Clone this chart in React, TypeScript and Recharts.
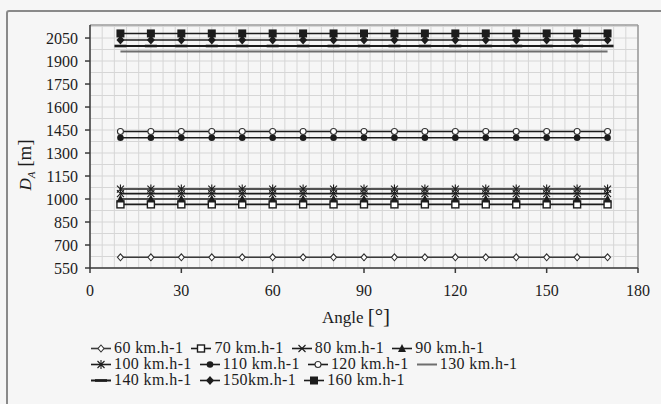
import React from 'react';
import { LineChart, Line, XAxis, YAxis, CartesianGrid, ReferenceLine } from 'recharts';

// angles where each speed was evaluated (degrees)
const angles = [10, 20, 30, 40, 50, 60, 70, 80, 90, 100, 110, 120, 130, 140, 150, 160, 170];

// series names, as printed in the legend
const speeds = [
  '60 km.h-1', '70 km.h-1', '80 km.h-1', '90 km.h-1',
  '100 km.h-1', '110 km.h-1', '120 km.h-1', '130 km.h-1',
  '140 km.h-1', '150km.h-1', '160 km.h-1',
];

// D_A, one level per speed (flat across angle)
const distances = [620, 965, 1035, 1000, 1065, 1400, 1440, 1962, 1998, 2037, 2080];

// marker used for each series
const markers = [
  'diamond', 'square', 'cross', 'triangle',
  'asterisk', 'dot', 'circle', 'none',
  'dash', 'filledDiamond', 'filledSquare',
];

const xTicks = [0, 30, 60, 90, 120, 150, 180];
const yTicks = [550, 700, 850, 1000, 1150, 1300, 1450, 1600, 1750, 1900, 2050];

// legend rows as in the original (4 / 4 / 3)
const legendRows = [[0, 1, 2, 3], [4, 5, 6, 7], [8, 9, 10]];

const Y_MIN = 550;
const Y_MAX = 2135;

const data = angles.map((a) => {
  const row: Record<string, number> = { angle: a };
  speeds.forEach((_, i) => {
    row[`s${i}`] = distances[i];
  });
  return row;
});

const hGrid: number[] = [];
for (let v = Y_MIN; v <= Y_MAX; v += 75) hGrid.push(v);
const vGrid: number[] = [];
for (let v = 0; v <= 180; v += 4) vGrid.push(v);

const FONT = 'Liberation Serif, DejaVu Serif, serif';
const INK = '#1c1c1c';

const Marker = ({ kind, cx, cy }: { kind: string; cx: number; cy: number }) => {
  switch (kind) {
    case 'diamond':
      return <path d={`M${cx},${cy - 3.5}L${cx + 3},${cy}L${cx},${cy + 3.5}L${cx - 3},${cy}Z`} fill="#fff" stroke="#333" strokeWidth={1.1} />;
    case 'square':
      return <rect x={cx - 3.5} y={cy - 3.5} width={7} height={7} fill="#fff" stroke={INK} strokeWidth={1.4} />;
    case 'cross':
      return <path d={`M${cx - 3.5},${cy - 3.5}L${cx + 3.5},${cy + 3.5}M${cx + 3.5},${cy - 3.5}L${cx - 3.5},${cy + 3.5}`} stroke={INK} strokeWidth={1.1} />;
    case 'triangle':
      return <path d={`M${cx},${cy - 4.5}L${cx + 4},${cy + 3.5}L${cx - 4},${cy + 3.5}Z`} fill={INK} />;
    case 'asterisk':
      return <path d={`M${cx - 3.5},${cy - 3.5}L${cx + 3.5},${cy + 3.5}M${cx + 3.5},${cy - 3.5}L${cx - 3.5},${cy + 3.5}M${cx},${cy - 4.5}L${cx},${cy + 4.5}`} stroke={INK} strokeWidth={1.1} />;
    case 'dot':
      return <circle cx={cx} cy={cy} r={3.3} fill={INK} />;
    case 'circle':
      return <circle cx={cx} cy={cy} r={3} fill="#fff" stroke="#333" strokeWidth={1.1} />;
    case 'dash':
      return <rect x={cx - 6} y={cy - 1.3} width={12} height={2.6} fill={INK} />;
    case 'filledDiamond':
      return <path d={`M${cx},${cy - 4.5}L${cx + 4},${cy}L${cx},${cy + 4.5}L${cx - 4},${cy}Z`} fill={INK} />;
    case 'filledSquare':
      return <rect x={cx - 4} y={cy - 4} width={8} height={8} fill={INK} />;
    default:
      return <g />;
  }
};

const lineColor = (i: number) => (markers[i] === 'none' ? '#6e6e6e' : markers[i] === 'diamond' ? '#3a3a3a' : INK);
const lineWidth = (i: number) => (markers[i] === 'none' || markers[i] === 'dash' ? 2 : 1.6);

const YLabel = () => (
  <text x={31} y={165} transform="rotate(-90 31 165)" textAnchor="middle" fontFamily={FONT} fontSize={17} fill={INK}>
    <tspan fontStyle="italic">D</tspan>
    <tspan fontStyle="italic" fontSize={11} dy={4}>A</tspan>
    <tspan dy={-4} fontSize={19}> [m]</tspan>
  </text>
);

const XLabel = () => (
  <text x={356} y={323} textAnchor="middle" fontFamily={FONT} fontSize={17} fill={INK}>
    Angle <tspan fontSize={21}>[°]</tspan>
  </text>
);

const LegendBlock = () => (
  <div style={{ position: 'absolute', left: 90, top: 340, fontFamily: FONT, fontSize: 16, letterSpacing: 0.4, color: INK, lineHeight: '16px' }}>
    {legendRows.map((row, r) => (
      <div key={r} style={{ display: 'flex', whiteSpace: 'nowrap', height: 16 }}>
        {row.map((i) => (
          <div key={i} style={{ display: 'flex', alignItems: 'center', marginRight: 7 }}>
            <svg width={22} height={16} style={{ marginRight: 2 }}>
              <line x1={1} y1={8.5} x2={21} y2={8.5} stroke={lineColor(i)} strokeWidth={lineWidth(i)} />
              <Marker kind={markers[i]} cx={11} cy={8.5} />
            </svg>
            <span>{speeds[i]}</span>
          </div>
        ))}
      </div>
    ))}
  </div>
);

export default function App() {
  return (
    <div style={{ position: 'absolute', left: 0, top: 0, width: 661, height: 404, background: '#f6f6f6', overflow: 'hidden' }}>
      <div style={{ position: 'absolute', left: 6, top: 10, width: 700, height: 500, border: '2px solid #8a8a8a', borderRadius: 3 }} />
      <div style={{ position: 'absolute', left: 0, top: 0 }}>
        <LineChart width={661} height={404} data={data} margin={{ top: 25, right: 23, left: 0, bottom: 106 }}>
          <CartesianGrid stroke="#d6d6d6" strokeWidth={1} horizontalValues={hGrid} verticalValues={vGrid} />
          <XAxis
            dataKey="angle"
            type="number"
            domain={[0, 180]}
            ticks={xTicks}
            interval={0}
            height={30}
            tickSize={5}
            tickMargin={12}
            axisLine={{ stroke: '#3a3a3a', strokeWidth: 1.5 }}
            tickLine={{ stroke: '#3a3a3a', strokeWidth: 1.5 }}
            tick={{ fill: INK, fontFamily: FONT, fontSize: 16 }}
          />
          <YAxis
            type="number"
            domain={[Y_MIN, Y_MAX]}
            ticks={yTicks}
            interval={0}
            width={90}
            tickSize={5}
            tickMargin={7}
            axisLine={{ stroke: '#3a3a3a', strokeWidth: 1.5 }}
            tickLine={{ stroke: '#3a3a3a', strokeWidth: 1.5 }}
            tick={{ fill: INK, fontFamily: FONT, fontSize: 16 }}
          />
          <ReferenceLine y={Y_MAX} stroke="#9a9a9a" strokeWidth={1.5} />
          <ReferenceLine x={180} stroke="#9a9a9a" strokeWidth={1.5} />
          {speeds.map((name, i) => (
            <Line
              key={name}
              dataKey={`s${i}`}
              name={name}
              stroke={lineColor(i)}
              strokeWidth={lineWidth(i)}
              isAnimationActive={false}
              dot={(p: any) => <Marker key={`${name}-${p.index}`} kind={markers[i]} cx={p.cx} cy={p.cy} />}
              activeDot={false}
            />
          ))}
        </LineChart>
      </div>
      <svg width={661} height={404} style={{ position: 'absolute', left: 0, top: 0, pointerEvents: 'none' }}>
        <YLabel />
        <XLabel />
      </svg>
      <LegendBlock />
    </div>
  );
}
